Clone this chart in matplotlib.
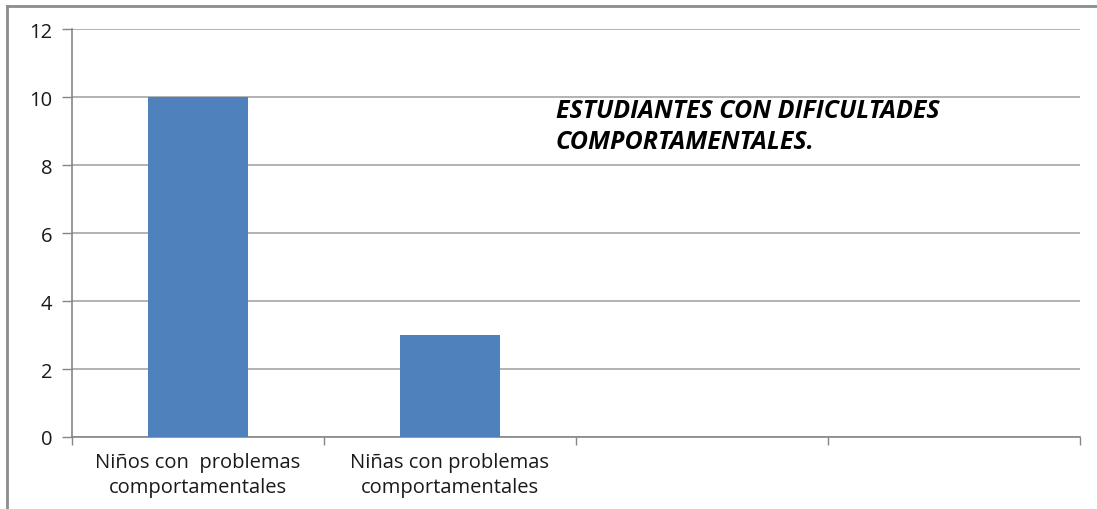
import matplotlib
matplotlib.use("Agg")
import matplotlib.pyplot as plt
from matplotlib.lines import Line2D
from matplotlib.ticker import FixedLocator, NullFormatter

categories = ["Niños con  problemas\ncomportamentales",
              "Niñas con problemas\ncomportamentales", "", ""]
values = [10, 3, None, None]
yticks = [0, 2, 4, 6, 8, 10, 12]
title = "ESTUDIANTES CON DIFICULTADES\nCOMPORTAMENTALES."

plt.rcParams['font.family'] = ['Open Sans', 'DejaVu Sans']

fig = plt.figure(figsize=(10.97, 5.10), dpi=100)
ax = fig.add_axes([72/1097, 72/510, 1008/1097, 408/510])

bar_color = "#4F81BD"
grid_color = "#A6A6A6"
axis_color = "#868686"

xs = list(range(len(categories)))
for x, v in zip(xs, values):
    if v is not None:
        ax.bar(x, v, width=0.4, color=bar_color, zorder=3)

ax.set_xlim(-0.5, len(categories) - 0.5)
ax.set_ylim(0, 12)
ax.set_yticks(yticks)
ax.set_yticklabels([str(t) for t in yticks], fontsize=14.5, color="#1a1a1a")
ax.yaxis.grid(True, color=grid_color, linewidth=1.2, zorder=0)
ax.set_axisbelow(True)

ax.set_xticks(xs)
ax.set_xticklabels(categories, fontsize=14.5, color="#1a1a1a", linespacing=1.3)
ax.tick_params(axis='x', which='major', length=0, pad=11)
ax.xaxis.set_minor_locator(FixedLocator([i - 0.5 for i in range(len(categories) + 1)]))
ax.xaxis.set_minor_formatter(NullFormatter())
ax.tick_params(axis='x', which='minor', length=6, color=axis_color, width=1)
ax.tick_params(axis='y', length=7, color=axis_color, width=1, pad=7)

for s in ['top', 'right']:
    ax.spines[s].set_visible(False)
for s in ['left', 'bottom']:
    ax.spines[s].set_color(axis_color)
    ax.spines[s].set_linewidth(1.2)

ax.text(0.480, 0.708, title, transform=ax.transAxes, fontsize=18,
        fontweight='bold', fontstyle='italic', va='baseline', ha='left',
        linespacing=1.3, color="#000000")

# outer border (top and left visible)
fig.add_artist(Line2D([7/1097, 7/1097], [0, 1 - 7/510], transform=fig.transFigure,
                      color="#8C8C8C", linewidth=2))
fig.add_artist(Line2D([7/1097, 1], [1 - 7/510, 1 - 7/510], transform=fig.transFigure,
                      color="#8C8C8C", linewidth=2))

fig.savefig("out.png", dpi=100)
